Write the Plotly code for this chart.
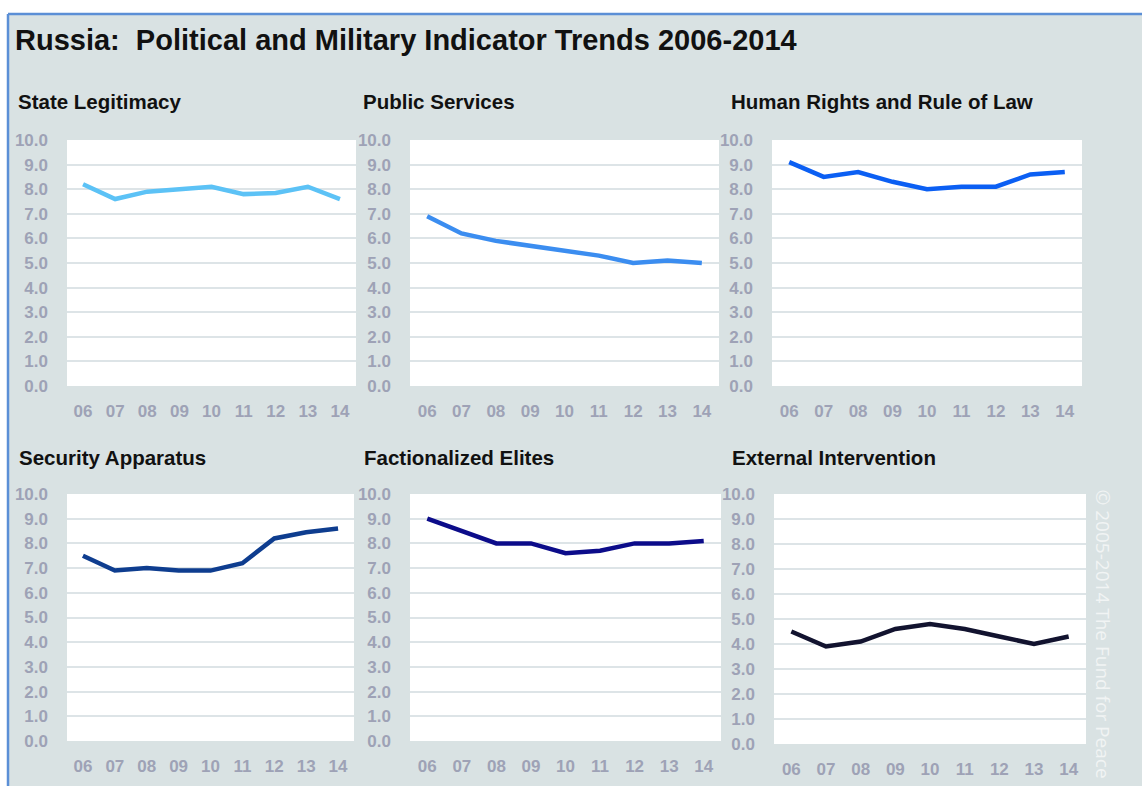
import plotly.graph_objects as go

# Fragile States Index indicator scores for Russia, 2006-2014
years = ["06", "07", "08", "09", "10", "11", "12", "13", "14"]

state_legitimacy = [8.2, 7.6, 7.9, 8.0, 8.1, 7.8, 7.85, 8.1, 7.6]
public_services = [6.9, 6.2, 5.9, 5.7, 5.5, 5.3, 5.0, 5.1, 5.0]
human_rights = [9.1, 8.5, 8.7, 8.3, 8.0, 8.1, 8.1, 8.6, 8.7]
security_apparatus = [7.5, 6.9, 7.0, 6.9, 6.9, 7.2, 8.2, 8.45, 8.6]
factionalized_elites = [9.0, 8.5, 8.0, 8.0, 7.6, 7.7, 8.0, 8.0, 8.1]
external_intervention = [4.5, 3.9, 4.1, 4.6, 4.8, 4.6, 4.3, 4.0, 4.3]

panel_titles = [
    "State Legitimacy", "Public Services", "Human Rights and Rule of Law",
    "Security Apparatus", "Factionalized Elites", "External Intervention",
]
series = [state_legitimacy, public_services, human_rights,
          security_apparatus, factionalized_elites, external_intervention]
line_colors = ["#5cc2f6", "#3b8df0", "#0b5ff3", "#0e3d8f", "#0c0c8a", "#12132f"]

W, H = 1142, 787

# plot rectangles in pixels: (left, right, top, bottom)
boxes = [
    (67, 356, 140, 386), (410, 719, 140, 386), (772, 1082, 140, 386),
    (67, 354, 494, 741), (410, 721, 494, 741), (774, 1086, 494, 744),
]
title_pos = [(16, 102), (361, 102), (729, 102), (17, 457), (362, 457), (730, 457)]

FONT = "Liberation Sans, Arial, sans-serif"
TICK_COLOR = "#9ea2b6"
BG = "#d9e2e3"
BORDER = "#5b8fd6"


def px(x):
    return x / W


def py(y):
    return 1 - y / H


fig = go.Figure()
layout = dict(
    width=W, height=H,
    autosize=False,
    margin=dict(l=0, r=0, t=0, b=0, autoexpand=False),
    paper_bgcolor=BG,
    plot_bgcolor="white",
    showlegend=False,
    shapes=[],
    annotations=[],
)

for i, (vals, color, (l, r, t, b)) in enumerate(zip(series, line_colors, boxes)):
    n = "" if i == 0 else str(i + 1)
    fig.add_trace(go.Scatter(
        x=years, y=vals, mode="lines",
        line=dict(color=color, width=4.5),
        xaxis="x" + n, yaxis="y" + n,
        hoverinfo="x+y",
    ))
    layout["xaxis" + n] = dict(
        domain=[px(l), px(r)], anchor="y" + n,
        type="category", range=[-0.5, 8.5],
        showgrid=False, zeroline=False, showline=False, ticks="",
        ticklabelstandoff=13,
        tickfont=dict(family=FONT, size=17, color=TICK_COLOR, weight="bold"),
        fixedrange=True,
    )
    layout["yaxis" + n] = dict(
        domain=[py(b), py(t)], anchor="x" + n,
        range=[0, 10], dtick=1, tick0=0, tickformat=".1f",
        showgrid=True, gridcolor="#dde4e7", gridwidth=1.5,
        zeroline=False, showline=False, ticks="",
        ticklabelstandoff=18,
        tickfont=dict(family=FONT, size=17, color=TICK_COLOR, weight="bold"),
        fixedrange=True,
    )
    tx, ty = title_pos[i]
    layout["annotations"].append(dict(
        text=panel_titles[i], xref="paper", yref="paper",
        x=px(tx), y=py(ty), xanchor="left", yanchor="middle", showarrow=False,
        font=dict(family=FONT, size=20.5, color="#111111", weight="bold"),
    ))

# white page margins around the grey panel, blue frame on its top and left edges
layout["shapes"] += [
    dict(type="rect", xref="paper", yref="paper", x0=0, x1=1, y0=py(14), y1=1,
         fillcolor="white", line=dict(width=0), layer="below"),
    dict(type="rect", xref="paper", yref="paper", x0=0, x1=px(8), y0=0, y1=1,
         fillcolor="white", line=dict(width=0), layer="below"),
    dict(type="rect", xref="paper", yref="paper", x0=0, x1=1, y0=0, y1=py(786),
         fillcolor="white", line=dict(width=0), layer="below"),
    dict(type="line", xref="paper", yref="paper", x0=px(8), x1=1, y0=py(14), y1=py(14),
         line=dict(color=BORDER, width=2.5)),
    dict(type="line", xref="paper", yref="paper", x0=px(8), x1=px(8), y0=py(786), y1=py(14),
         line=dict(color=BORDER, width=2.5)),
]

layout["annotations"] += [
    dict(text="Russia:\u00a0 Political and Military Indicator Trends 2006-2014",
         xref="paper", yref="paper", x=px(13), y=py(40), xanchor="left", yanchor="middle",
         showarrow=False,
         font=dict(family=FONT, size=29, color="#111111", weight="bold")),
    dict(text="\u00a9 2005-2014 The Fund for Peace", textangle=90,
         xref="paper", yref="paper", x=px(1103), y=py(487), xanchor="center", yanchor="top",
         showarrow=False,
         font=dict(family="Open Sans, sans-serif", size=19, color="#f1f4f4")),
]

fig.update_layout(**layout)
fig.write_html(
    "out.html",
    config={"responsive": False, "displayModeBar": False},
    post_script="document.body.style.margin='0';document.body.style.overflow='hidden';",
)
